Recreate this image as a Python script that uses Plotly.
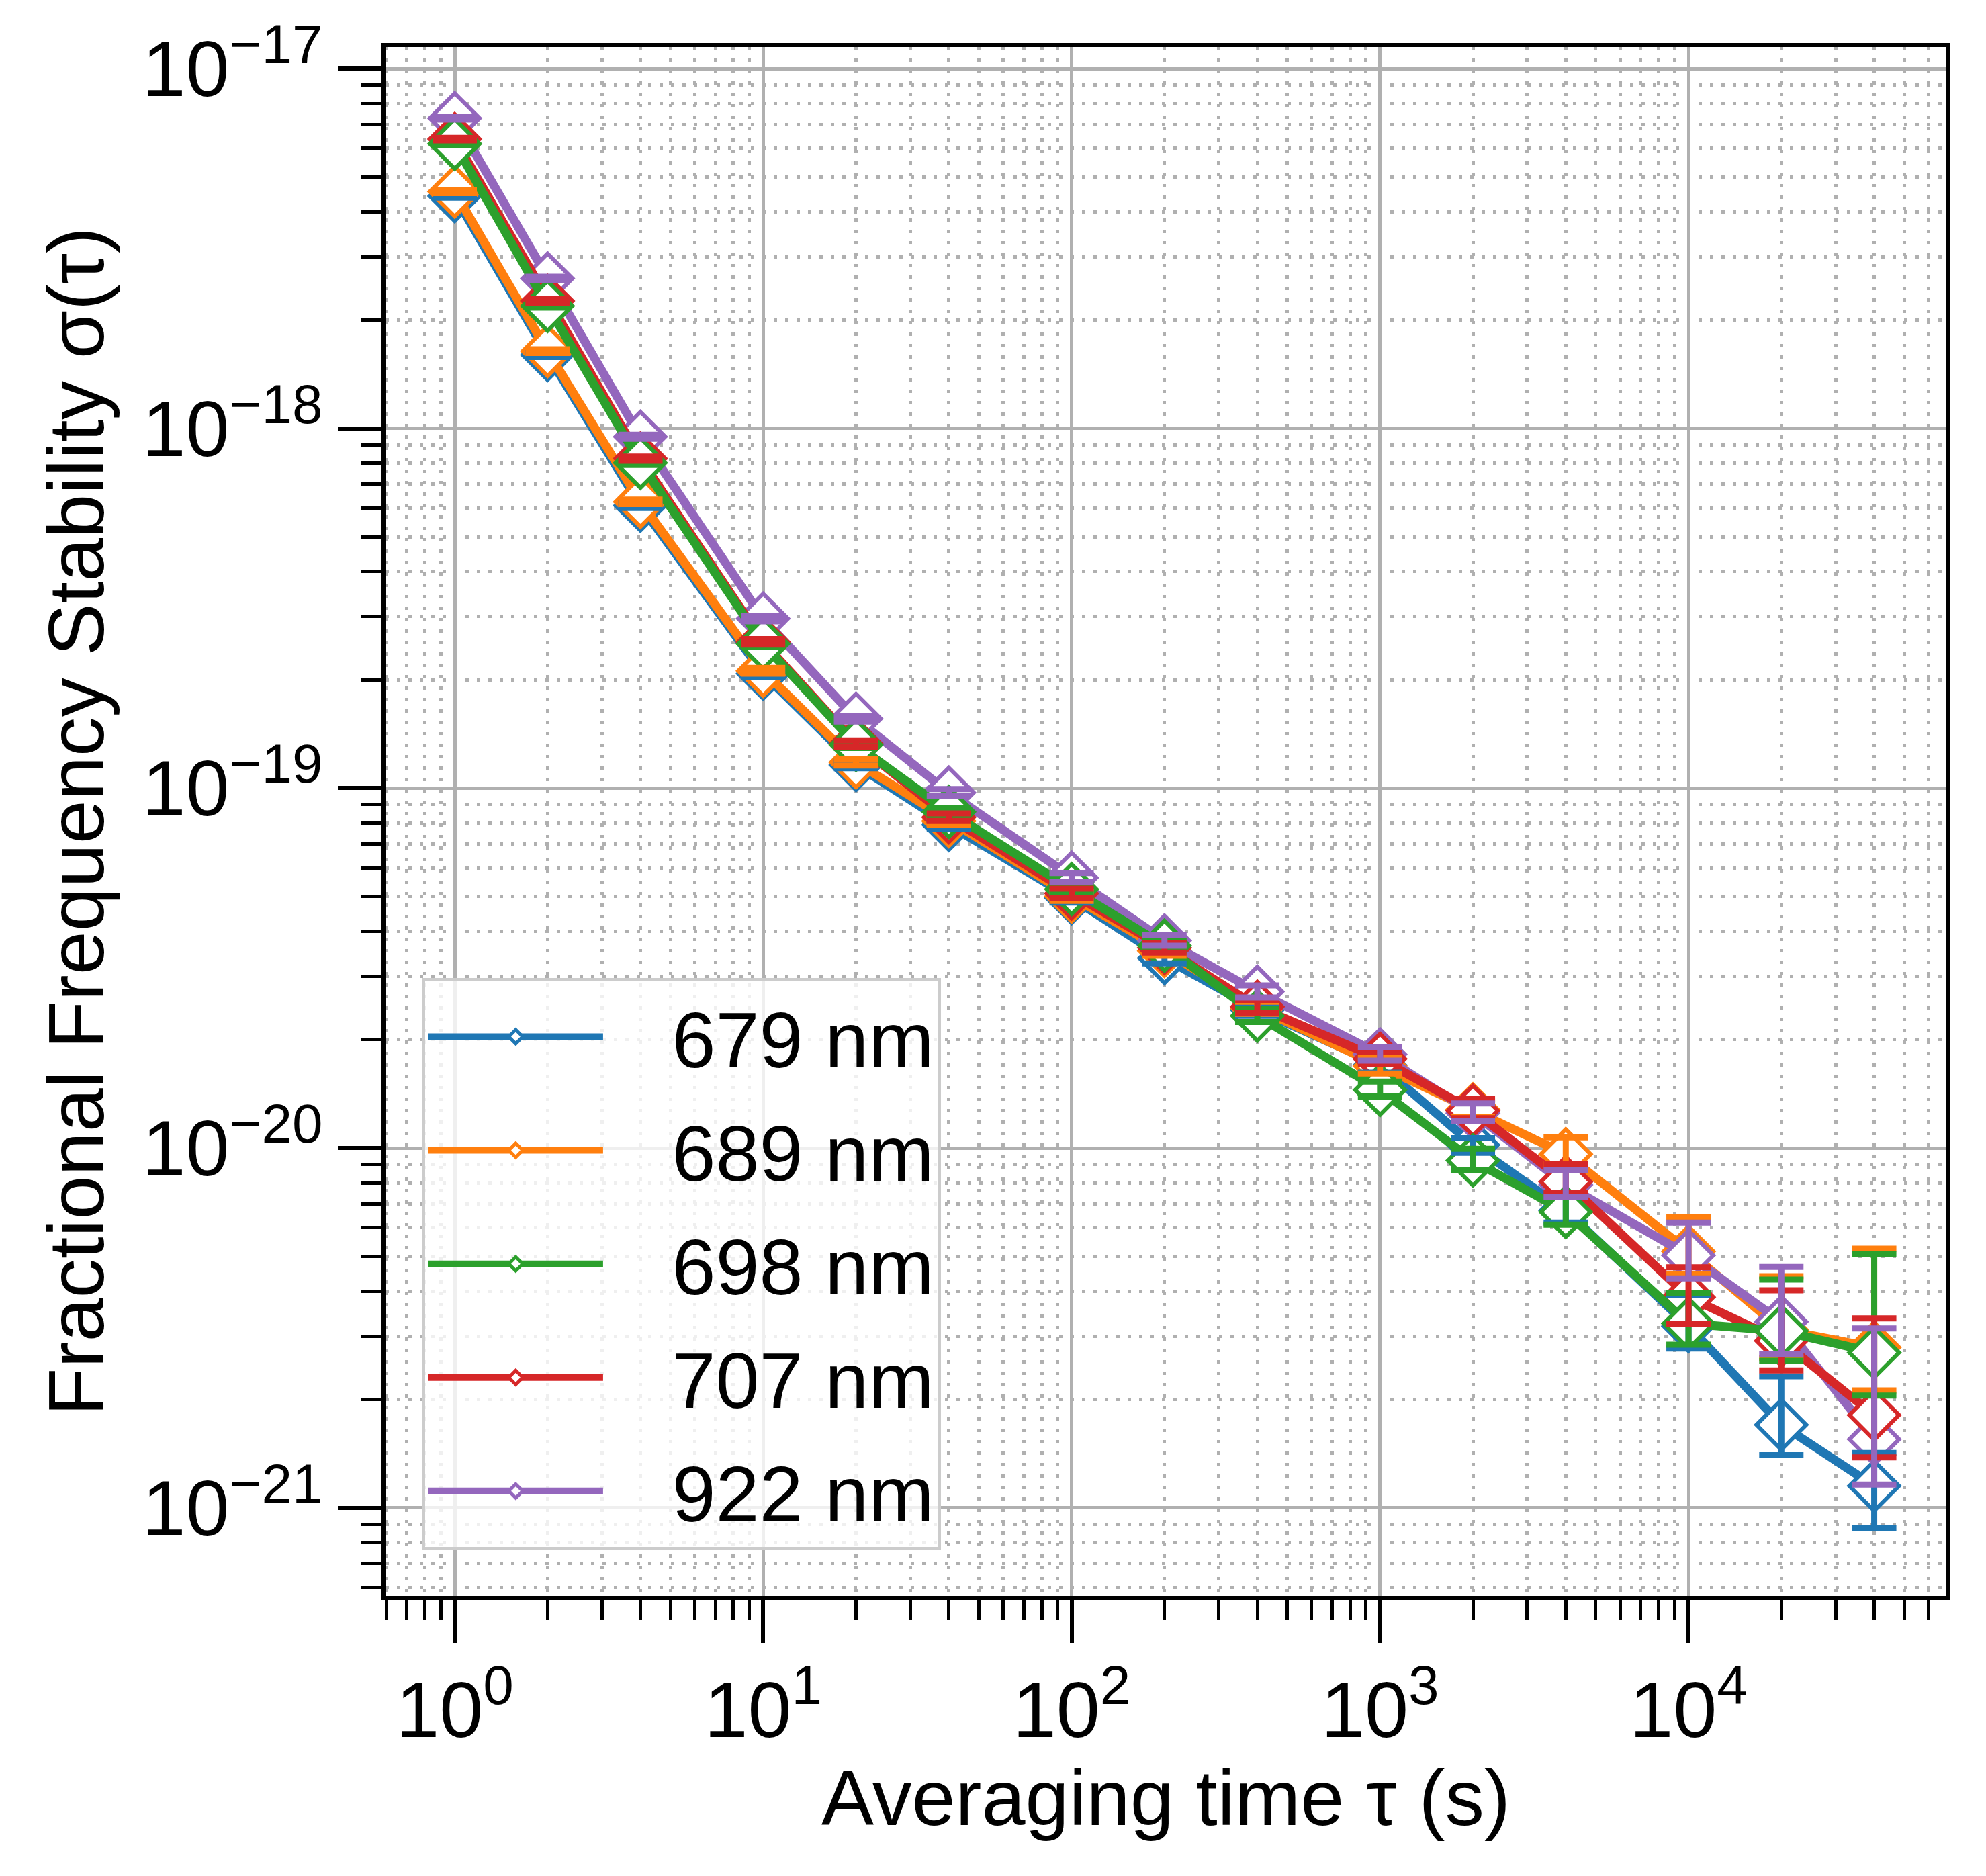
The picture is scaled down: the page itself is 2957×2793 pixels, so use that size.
import plotly.graph_objects as go

# ---------------- data ----------------
tau_s = [1, 2, 4, 10, 20, 40, 100, 200, 400, 1000, 2000, 4000, 10000, 20000, 40000]

series_labels = ["679 nm", "689 nm", "698 nm", "707 nm", "922 nm"]
series_colors = ["#1f77b4", "#ff7f0e", "#2ca02c", "#d62728", "#9467bd"]

sigma_679 = [4.42e-18, 1.60e-18, 6.10e-19, 2.08e-19, 1.16e-19, 7.9e-20, 4.95e-20, 3.37e-20,
             2.42e-20, 1.70e-20, 1.02e-20, 6.7e-21, 3.20e-21, 1.70e-21, 1.15e-21]
err_up_679 = [4e-20, 2.0e-20, 9e-21, 4e-21, 2.6e-21, 2.0e-21, 1.5e-21, 1.2e-21,
              1.0e-21, 0.9e-21, 0.45e-21, 0.6e-21, 0.7e-21, 0.62e-21, 0.27e-21]
err_dn_679 = [4e-20, 2.0e-20, 9e-21, 4e-21, 2.4e-21, 1.8e-21, 1.4e-21, 1.1e-21,
              0.9e-21, 0.8e-21, 0.5e-21, 0.5e-21, 0.43e-21, 0.30e-21, 0.27e-21]

sigma_689 = [4.55e-18, 1.64e-18, 6.25e-19, 2.12e-19, 1.18e-19, 8.1e-20, 5.0e-20, 3.53e-20,
             2.45e-20, 1.69e-20, 1.28e-20, 9.61e-21, 5.16e-21, 3.13e-21, 2.79e-21]
err_up_689 = [4e-20, 2.0e-20, 9e-21, 4e-21, 2.6e-21, 2.0e-21, 1.5e-21, 1.2e-21,
              1.0e-21, 0.9e-21, 0.7e-21, 1.09e-21, 1.26e-21, 1.27e-21, 2.46e-21]
err_dn_689 = [4e-20, 2.0e-20, 9e-21, 4e-21, 2.4e-21, 1.8e-21, 1.4e-21, 1.1e-21,
              0.9e-21, 0.8e-21, 0.6e-21, 0.59e-21, 0.70e-21, 0.52e-21, 0.67e-21]

sigma_698 = [6.18e-18, 2.19e-18, 8.02e-19, 2.52e-19, 1.32e-19, 8.59e-20, 5.24e-20, 3.65e-20,
             2.33e-20, 1.45e-20, 9.23e-21, 6.64e-21, 3.25e-21, 3.10e-21, 2.70e-21]
err_up_698 = [5e-20, 2.5e-20, 1.1e-20, 4.5e-21, 2.8e-21, 2.1e-21, 1.6e-21, 1.2e-21,
              1.0e-21, 0.8e-21, 0.72e-21, 0.68e-21, 0.71e-21, 1.21e-21, 2.37e-21]
err_dn_698 = [5e-20, 2.5e-20, 1.1e-20, 4.5e-21, 2.6e-21, 1.9e-21, 1.5e-21, 1.1e-21,
              0.9e-21, 0.6e-21, 0.56e-21, 0.52e-21, 0.41e-21, 0.54e-21, 0.65e-21]

sigma_707 = [6.37e-18, 2.26e-18, 8.24e-19, 2.55e-19, 1.33e-19, 8.3e-20, 5.1e-20, 3.6e-20,
             2.47e-20, 1.77e-20, 1.27e-20, 8.05e-21, 3.85e-21, 2.91e-21, 1.81e-21]
err_up_707 = [5e-20, 2.5e-20, 1.1e-20, 4.5e-21, 2.8e-21, 2.1e-21, 1.6e-21, 1.2e-21,
              1.0e-21, 0.8e-21, 1.0e-21, 0.97e-21, 0.81e-21, 1.11e-21, 1.55e-21]
err_dn_707 = [5e-20, 2.5e-20, 1.1e-20, 4.5e-21, 2.6e-21, 1.9e-21, 1.5e-21, 1.1e-21,
              0.9e-21, 0.6e-21, 0.6e-21, 0.56e-21, 0.6e-21, 0.50e-21, 0.43e-21]

sigma_922 = [7.28e-18, 2.61e-18, 9.48e-19, 2.96e-19, 1.56e-19, 9.72e-20, 5.64e-20, 3.77e-20,
             2.72e-20, 1.82e-20, 1.25e-20, 7.9e-21, 5.03e-21, 3.29e-21, 1.55e-21]
err_up_922 = [6e-20, 3e-20, 1.2e-20, 5e-21, 3e-21, 2.2e-21, 1.7e-21, 1.3e-21,
              1.1e-21, 0.9e-21, 0.8e-21, 0.8e-21, 1.17e-21, 1.38e-21, 1.60e-21]
err_dn_922 = [6e-20, 3e-20, 1.2e-20, 5e-21, 2.8e-21, 2.0e-21, 1.6e-21, 1.2e-21,
              1.0e-21, 0.7e-21, 0.6e-21, 0.6e-21, 0.69e-21, 0.61e-21, 0.39e-21]

x_tick_vals = [1, 10, 100, 1000, 10000]
x_tick_text = ["10<sup>0</sup>", "10<sup>1</sup>", "10<sup>2</sup>", "10<sup>3</sup>", "10<sup>4</sup>"]
y_tick_vals = [1e-21, 1e-20, 1e-19, 1e-18, 1e-17]
y_tick_text = ["10<sup>\u221221</sup>", "10<sup>\u221220</sup>", "10<sup>\u221219</sup>",
               "10<sup>\u221218</sup>", "10<sup>\u221217</sup>"]

x_minor_vals = [m * 10.0 ** e for e in range(-1, 5) for m in range(2, 10)]
y_minor_vals = [m * 10.0 ** e for e in range(-22, -17) for m in range(2, 10)]

sig = [sigma_679, sigma_689, sigma_698, sigma_707, sigma_922]
eup = [err_up_679, err_up_689, err_up_698, err_up_707, err_up_922]
edn = [err_dn_679, err_dn_689, err_dn_698, err_dn_707, err_dn_922]

# ---------------- figure ----------------
FONT = "Liberation Sans, Arial, Helvetica, sans-serif"
FS = 117
GAP = "\u00a0\u00a0\u00a0"

fig = go.Figure()

draw_order = [0, 1, 4, 3, 2]
for i in draw_order:
    fig.add_trace(go.Scatter(
        x=tau_s, y=sig[i], name=GAP + series_labels[i], mode="lines+markers",
        line=dict(color=series_colors[i], width=13),
        marker=dict(symbol="diamond", size=57, color="white",
                    line=dict(color=series_colors[i], width=6)),
        legendrank=i + 1, legendgroup=series_labels[i],
    ))

for i in range(5):
    fig.add_trace(go.Scatter(
        x=tau_s, y=sig[i], mode="markers", showlegend=False, hoverinfo="skip",
        legendgroup=series_labels[i],
        marker=dict(size=1, color="rgba(0,0,0,0)"),
        error_y=dict(type="data", symmetric=False, array=eup[i], arrayminus=edn[i],
                     color=series_colors[i], thickness=9, width=33),
    ))

grid_col = "#b0b0b0"
common = dict(
    type="log", showline=True, linecolor="black", linewidth=6, mirror=True,
    ticks="outside", ticklen=64, tickwidth=6, tickcolor="black",
    showgrid=True, gridcolor=grid_col, gridwidth=4.5, zeroline=False,
    tickfont=dict(family=FONT, size=FS, color="black"),
)

fig.update_xaxes(
    **common,
    range=[-0.2243, 4.836],
    tickmode="array", tickvals=x_tick_vals, ticktext=x_tick_text,
    minor=dict(tickmode="array", tickvals=x_minor_vals, ticks="outside", ticklen=30,
               tickwidth=5, tickcolor="black", showgrid=True, gridcolor=grid_col,
               gridwidth=5, griddash="5px,12px"),
    title=dict(text="Averaging time \u03c4 (s)", font=dict(family=FONT, size=FS, color="black"),
               standoff=20),
)
fig.update_yaxes(
    **common,
    range=[-21.245, -16.940],
    tickmode="array", tickvals=y_tick_vals, ticktext=y_tick_text,
    minor=dict(tickmode="array", tickvals=y_minor_vals, ticks="outside", ticklen=30,
               tickwidth=5, tickcolor="black", showgrid=True, gridcolor=grid_col,
               gridwidth=5, griddash="5px,12px"),
    title=dict(text="Fractional Frequency Stability \u03c3(\u03c4)",
               font=dict(family=FONT, size=FS, color="black"), standoff=20),
)

fig.update_layout(
    width=2957, height=2793,
    margin=dict(l=574, r=59, t=70, b=417, autoexpand=False),
    paper_bgcolor="white", plot_bgcolor="white",
    font=dict(family=FONT, size=FS, color="black"),
    showlegend=True,
    legend=dict(x=0.0232, y=0.399, xanchor="left", yanchor="top",
                bgcolor="rgba(255,255,255,0.8)", bordercolor="#cccccc", borderwidth=5,
                font=dict(family=FONT, size=FS, color="black"),
                itemwidth=260, traceorder="grouped", tracegroupgap=14),
)

fig.write_html("out.html", include_plotlyjs=True, full_html=True,
               config={"displayModeBar": False},
               post_script="document.body.style.margin='0';")
